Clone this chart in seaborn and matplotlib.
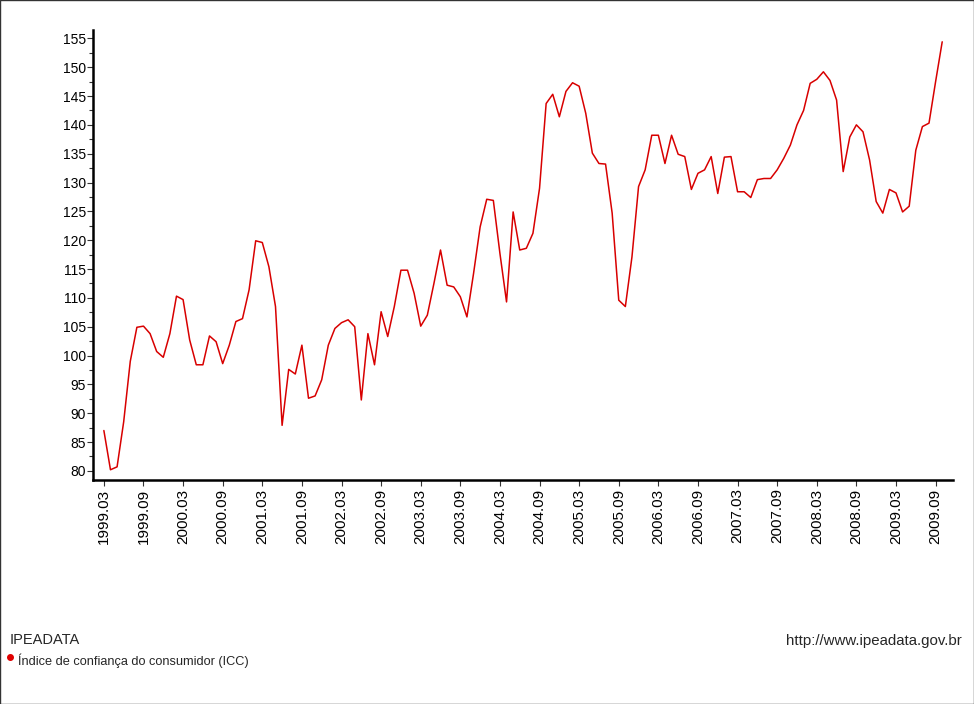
"""IPEADATA - Indice de confianca do consumidor (ICC), monthly line chart"""

import matplotlib
matplotlib.use("Agg")
import matplotlib.pyplot as plt
import matplotlib.ticker as mticker
from matplotlib.lines import Line2D
from matplotlib.patches import Rectangle
import pandas as pd
import seaborn as sns

sns.set_theme(style="ticks")
plt.rcParams["font.family"] = ["Liberation Sans", "DejaVu Sans"]

FIRST_MONTH = "1999-03"
# monthly values, 1999.03 .. 2009.10
ICC = [
    87.0, 80.2, 80.7, 88.5, 99.0, 104.9, 105.1, 103.8, 100.7, 99.7,
    103.8, 110.3, 109.7, 102.7, 98.4, 98.4, 103.4, 102.4, 98.6, 101.8, 105.9, 106.4,
    111.4, 119.9, 119.6, 115.4, 108.5, 87.9, 97.6, 96.8, 101.8, 92.6, 93.0, 95.8,
    101.8, 104.7, 105.7, 106.2, 105.0, 92.3, 103.8, 98.4, 107.6, 103.3, 108.5, 114.8,
    114.8, 110.8, 105.1, 107.0, 112.5, 118.3, 112.2, 111.9, 110.2, 106.7, 114.2, 122.3,
    127.1, 126.9, 117.7, 109.3, 124.9, 118.3, 118.6, 121.2, 129.0, 143.7, 145.3, 141.4,
    145.8, 147.3, 146.7, 142.0, 135.1, 133.3, 133.2, 124.7, 109.6, 108.5, 117.1, 129.3,
    132.2, 138.2, 138.2, 133.3, 138.2, 134.9, 134.5, 128.8, 131.6, 132.2, 134.5, 128.1,
    134.4, 134.5, 128.4, 128.4, 127.4, 130.5, 130.7, 130.7, 132.2, 134.2, 136.5, 140.0,
    142.5, 147.2, 147.9, 149.2, 147.7, 144.3, 131.9, 137.9, 140.0, 138.8, 133.9, 126.7,
    124.7, 128.8, 128.2, 124.9, 125.9, 135.6, 139.7, 140.3, 147.5, 154.4,
]
Y_TICKS = list(range(80, 156, 5))
TICK_MONTHS = (3, 9)

periods = pd.period_range(FIRST_MONTH, periods=len(ICC), freq="M")
df = pd.DataFrame({"t": range(len(ICC)), "icc": ICC})
tick_pos = [i for i, p in enumerate(periods) if p.month in TICK_MONTHS]
tick_lab = [f"{periods[i].year}.{periods[i].month:02d}" for i in tick_pos]

fig = plt.figure(figsize=(9.74, 7.04), dpi=100)
ax = fig.add_axes([0.0958, 0.318, 0.8824, 0.639])
sns.lineplot(data=df, x="t", y="icc", color="#d80000", linewidth=1.1, ax=ax)

ax.set_xlim(-1.6, 128.6)
ax.set_ylim(78.4, 156.4)
ax.set_yticks(Y_TICKS)
ax.yaxis.set_minor_locator(mticker.MultipleLocator(2.5))
ax.set_xticks(tick_pos)
ax.set_xticklabels(tick_lab, rotation=90)
ax.set_xlabel("")
ax.set_ylabel("")

for side in ("top", "right"):
    ax.spines[side].set_visible(False)
for side in ("left", "bottom"):
    ax.spines[side].set_linewidth(1.8)
    ax.spines[side].set_color("black")
ax.tick_params(axis="both", which="major", direction="out", length=4.5, width=0.8,
               color="#333333", labelsize=10, pad=0.8, labelcolor="black")
ax.tick_params(axis="x", which="major", labelsize=11, pad=1.5)
ax.tick_params(axis="y", which="minor", direction="out", length=3, width=0.8, color="#333333")

fig.text(10 / 974, 1 - 640 / 704, "IPEADATA", fontsize=10.5, va="center")
fig.text(18 / 974, 1 - 661 / 704, "Índice de confiança do consumidor (ICC)",
         fontsize=9.2, va="center")
fig.text(962 / 974, 1 - 641 / 704, "http://www.ipeadata.gov.br",
         fontsize=10.8, va="center", ha="right")
fig.add_artist(Line2D([9.5 / 974], [1 - 657 / 704], marker="o", markersize=4,
                      color="#e00000", transform=fig.transFigure))
fig.add_artist(Rectangle((0.0005, 0.0005), 0.999, 0.999, fill=False,
                         edgecolor="#333333", linewidth=1.0, transform=fig.transFigure))

fig.savefig("out.png", dpi=100)
plt.close(fig)
